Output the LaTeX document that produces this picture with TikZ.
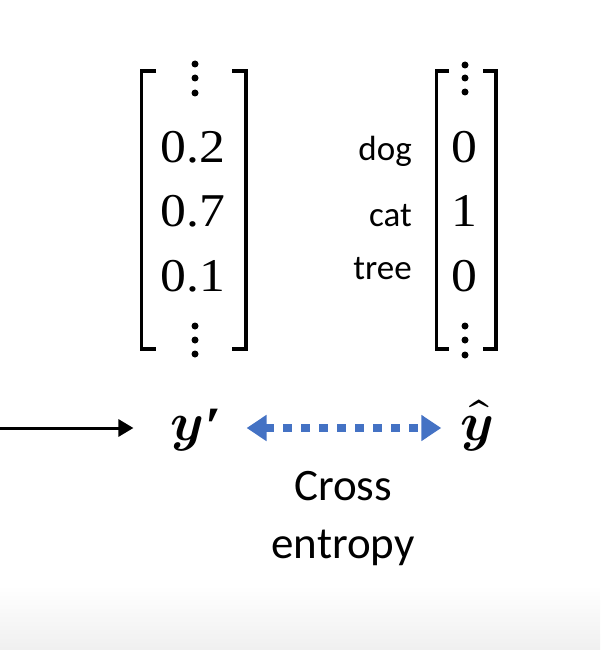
\documentclass[tikz,border=0pt]{standalone}
\usepackage{amsmath}
\usepackage{fontspec}
\usepackage{unicode-math}
\setmathfont{Latin Modern Math}
\newfontfamily\calibri{Carlito}
\newfontfamily\numfont{Liberation Serif}[FakeStretch=1.1]
\usetikzlibrary{arrows.meta}
\definecolor{arrowblue}{HTML}{4472C4}

\begin{document}
\begin{tikzpicture}[x=1pt,y=-1pt,line width=.5pt,
  num/.style={anchor=base,inner sep=0pt,font=\numfont\fontsize{47}{54}\selectfont},
  lab/.style={anchor=base east,inner sep=0pt,font=\calibri\fontsize{35}{42}\selectfont},
  sym/.style={anchor=base,inner sep=0pt,font=\fontsize{54}{60}\selectfont},
  brk/.style={line width=3.5pt},
  dot/.style={circle,fill,inner sep=0pt,minimum size=7pt}]
\path[use as bounding box] (0,0) rectangle (600,650);
\shade[top color=white,bottom color=black!6] (0,585) rectangle (600,650);
\draw[brk] (156,71) -- (141.5,71) -- (141.5,349) -- (156,349);
\draw[brk] (232,71) -- (246,71) -- (246,349) -- (232,349);
\node[dot] (pt1) at (195,64) {};
\node[dot] (pt2) at (195,78) {};
\node[dot] (pt3) at (195,93) {};
\node[num] (p2) at (193,162) {0.2};
\node[num] (p7) at (193,226) {0.7};
\node[num] (p1) at (193,291) {0.1};
\node[dot] (pb1) at (195,326) {};
\node[dot] (pb2) at (195,340) {};
\node[dot] (pb3) at (195,354) {};
\draw[brk] (449,71) -- (436.5,71) -- (436.5,349) -- (449,349);
\draw[brk] (483,71) -- (496,71) -- (496,349) -- (483,349);
\node[dot] (qt1) at (465,65) {};
\node[dot] (qt2) at (465,78) {};
\node[dot] (qt3) at (465,92) {};
\node[num] (qdog) at (464,162) {0};
\node[num] (qcat) at (464,226) {1};
\node[num] (qtree) at (464,291) {0};
\node[dot] (qb1) at (465,326) {};
\node[dot] (qb2) at (465,340) {};
\node[dot] (qb3) at (465,355) {};
\node[lab] (ldog) at (412,160) {dog};
\node[lab] (lcat) at (412,226) {cat};
\node[lab] (ltree) at (412,279) {tree};
\coordinate (in) at (0,428);
\node[sym] (yp) at (196,440) {$\symbfit{y}$\kern1pt\raisebox{-4pt}{\numfont\bfseries\itshape ′}};
\node[sym] (yh) at (477,440) {$\widehat{\symbfit{y}}$};
\draw[line width=3pt,-{Triangle[length=15pt,width=17pt]},shorten >=37pt] (in) -- (in -| yp.west);
\draw[arrowblue,line width=8pt,dash pattern=on 9pt off 9pt,{Triangle[length=20pt,width=25pt]}-{Triangle[length=20pt,width=25pt]},shorten <=25pt,shorten >=19pt] (in -| yp.east) -- (in -| yh.west);
\node[anchor=base,inner sep=0pt,align=center,font=\calibri\fontsize{45}{58}\selectfont] (ce) at (343,558) {Cross\\entropy};
\end{tikzpicture}
\end{document}
